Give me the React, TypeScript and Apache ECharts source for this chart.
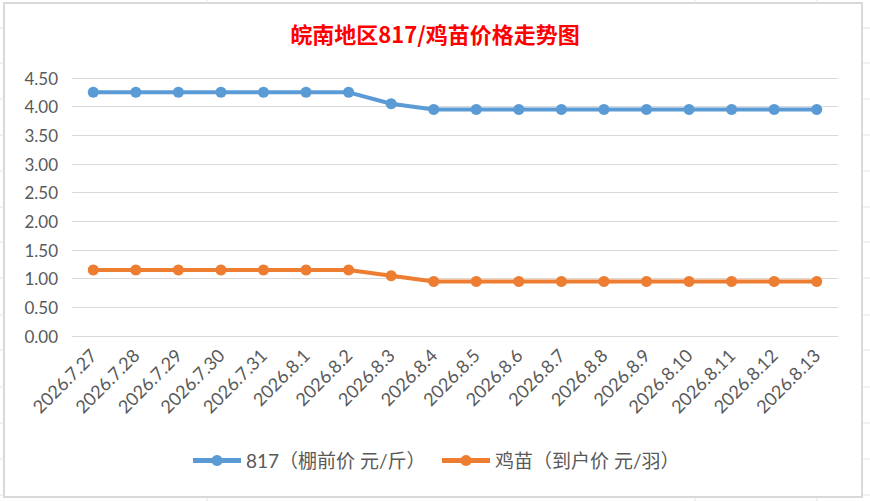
import React, { useEffect, useRef } from "react";
import * as echarts from "echarts";

const dates = [
  "2026.7.27", "2026.7.28", "2026.7.29", "2026.7.30", "2026.7.31",
  "2026.8.1", "2026.8.2", "2026.8.3", "2026.8.4", "2026.8.5",
  "2026.8.6", "2026.8.7", "2026.8.8", "2026.8.9", "2026.8.10",
  "2026.8.11", "2026.8.12", "2026.8.13",
];
const price817 = [
  4.25, 4.25, 4.25, 4.25, 4.25, 4.25, 4.25, 4.05, 3.95, 3.95,
  3.95, 3.95, 3.95, 3.95, 3.95, 3.95, 3.95, 3.95,
];
const chickPrice = [
  1.15, 1.15, 1.15, 1.15, 1.15, 1.15, 1.15, 1.05, 0.95, 0.95,
  0.95, 0.95, 0.95, 0.95, 0.95, 0.95, 0.95, 0.95,
];
const seriesNames = ["817（棚前价 元/斤）", "鸡苗（到户价 元/羽）"];
const colors = ["#5B9BD5", "#ED7D31"];

const FONT = "Lato, 'Noto Sans CJK SC', sans-serif";

// faint spreadsheet cell lines seen outside the chart frame
const sheetRows = [28, 63, 99, 135, 171, 207, 242, 278, 315, 350, 387, 423, 459, 495];
const sheetCols = [207, 695, 817];

export default function App() {
  const ref = useRef<HTMLDivElement>(null);

  useEffect(() => {
    if (!ref.current) return;
    const chart = echarts.init(ref.current, undefined, { renderer: "svg" });
    const lineStyle = { stroke: "#E3E3E3", lineWidth: 1 };
    const graphics: any[] = [];
    sheetRows.forEach((y) => {
      graphics.push({ type: "line", shape: { x1: 0, y1: y, x2: 4, y2: y }, style: lineStyle, silent: true });
      graphics.push({ type: "line", shape: { x1: 863, y1: y, x2: 870, y2: y }, style: lineStyle, silent: true });
    });
    sheetCols.forEach((x) => {
      graphics.push({ type: "line", shape: { x1: x, y1: 0, x2: x, y2: 3 }, style: lineStyle, silent: true });
      graphics.push({ type: "line", shape: { x1: x, y1: 498, x2: x, y2: 501 }, style: lineStyle, silent: true });
    });
    graphics.push({
      type: "rect",
      shape: { x: 4, y: 3, width: 858, height: 494 },
      style: { fill: "#FFFFFF", stroke: "#D9D9D9", lineWidth: 2 },
      z: -10,
      silent: true,
    });

    chart.setOption({
      animation: false,
      backgroundColor: "#FFFFFF",
      title: {
        text: "皖南地区817/鸡苗价格走势图",
        left: "center",
        top: 17,
        textStyle: {
          color: "#FF0000",
          fontSize: 22,
          fontWeight: "bold",
          fontFamily: "'Noto Sans CJK SC', sans-serif",
        },
      },
      graphic: graphics,
      grid: { left: 72, right: 32, top: 78, bottom: 165, containLabel: false },
      legend: {
        bottom: 26,
        left: "center",
        itemWidth: 48,
        itemHeight: 14,
        itemGap: 14,
        data: seriesNames,
        lineStyle: { width: 5 },
        textStyle: { color: "#595959", fontSize: 19, fontFamily: FONT },
      },
      xAxis: {
        type: "category",
        data: dates,
        boundaryGap: true,
        axisLine: { show: true, lineStyle: { color: "#D9D9D9", width: 1 } },
        axisTick: { show: false },
        axisLabel: {
          rotate: 45,
          interval: 0,
          color: "#595959",
          fontSize: 18,
          fontFamily: FONT,
          margin: 16,
        },
      },
      yAxis: {
        type: "value",
        min: 0,
        max: 4.5,
        interval: 0.5,
        axisLine: { show: false },
        axisTick: { show: false },
        axisLabel: {
          color: "#595959",
          fontSize: 17,
          fontFamily: FONT,
          margin: 14,
          formatter: (v: number) => v.toFixed(2),
        },
        splitLine: { lineStyle: { color: "#D9D9D9", width: 1 } },
      },
      series: [
        {
          name: seriesNames[0],
          type: "line",
          data: price817,
          symbol: "circle",
          symbolSize: 11,
          itemStyle: { color: colors[0] },
          lineStyle: { color: colors[0], width: 4 },
        },
        {
          name: seriesNames[1],
          type: "line",
          data: chickPrice,
          symbol: "circle",
          symbolSize: 11,
          itemStyle: { color: colors[1] },
          lineStyle: { color: colors[1], width: 4 },
        },
      ],
    });
    return () => chart.dispose();
  }, []);

  return (
    <div style={{ position: "fixed", left: 0, top: 0, width: 870, height: 501, background: "#fff" }}>
      <div ref={ref} style={{ width: 870, height: 501 }} />
    </div>
  );
}
